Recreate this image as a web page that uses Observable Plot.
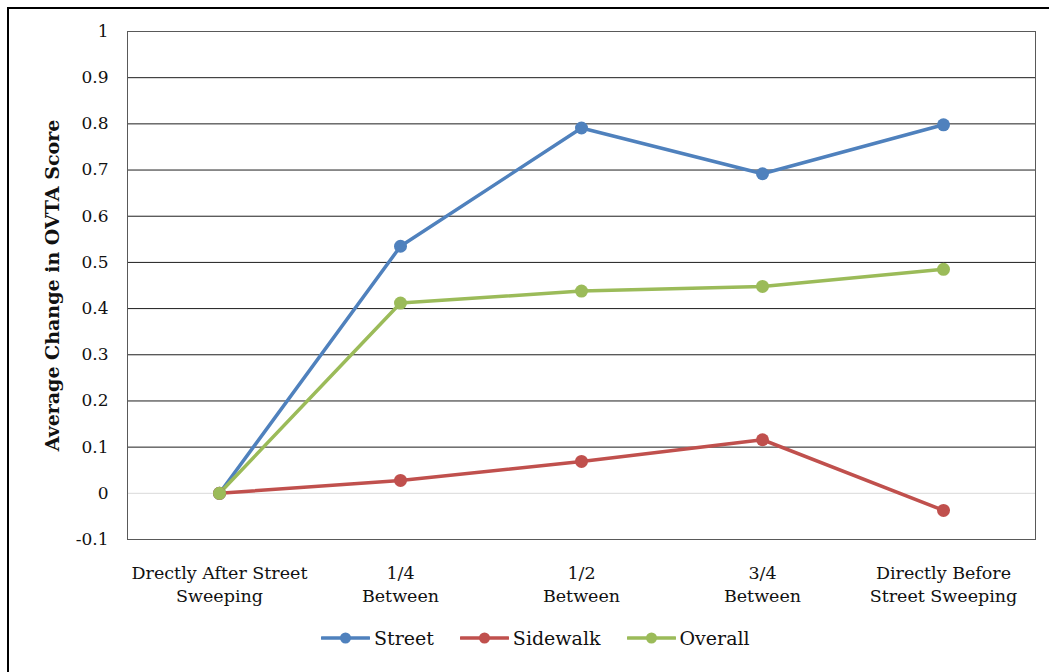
<!DOCTYPE html>
<html>
<head>
<meta charset="utf-8">
<script src="https://cdn.jsdelivr.net/npm/d3@7"></script>
<script src="https://cdn.jsdelivr.net/npm/@observablehq/plot@0.6"></script>
<style>
  html, body { margin: 0; padding: 0; background: #fff; overflow: hidden; }
  body { width: 1049px; height: 672px; position: relative; font-family: "DejaVu Serif", serif; }
  #box { position: absolute; left: 7px; top: 7px; width: 1100px; height: 720px; border: 2px solid #000; box-sizing: border-box; }
  #chart { position: absolute; left: 0; top: 0; }
  #legend { position: absolute; left: 321px; top: 627px; display: flex; align-items: center; font-size: 19px; color: #111; }
  .item { display: flex; align-items: center; margin-right: 26px; }
  .item svg { margin-right: 4px; }
</style>
</head>
<body>
<div id="box"></div>
<div id="chart"></div>
<div id="legend"></div>
<script>
// Time since sweeping (x categories)
const categories = [
  "Drectly After Street\nSweeping",
  "1/4\nBetween",
  "1/2\nBetween",
  "3/4\nBetween",
  "Directly Before\nStreet Sweeping"
];

// Average change in OVTA score per location type
const street   = [0, 0.535, 0.791, 0.692, 0.798];
const sidewalk = [0, 0.028, 0.069, 0.116, -0.037];
const overall  = [0, 0.412, 0.438, 0.448, 0.485];

const seriesNames = ["Street", "Sidewalk", "Overall"];
const seriesColors = ["#4F81BD", "#C0504D", "#9BBB59"];

const yTicks = [-0.1, 0, 0.1, 0.2, 0.3, 0.4, 0.5, 0.6, 0.7, 0.8, 0.9, 1];
const yLabel = "Average Change in OVTA Score";

const seriesValues = [street, sidewalk, overall];
const rows = seriesNames.flatMap((name, s) =>
  categories.map((c, i) => ({series: name, category: c, value: seriesValues[s][i]}))
);

const fmt = d => String(Math.round(d * 10) / 10);

const chart = Plot.plot({
  width: 1049,
  height: 610,
  marginLeft: 127,
  marginRight: 14,
  marginTop: 31,
  marginBottom: 71,
  style: {fontFamily: "'DejaVu Serif', serif", fontSize: "17px", color: "#111", background: "transparent"},
  x: {type: "point", domain: categories, padding: 0.5},
  y: {domain: [-0.1, 1]},
  color: {domain: seriesNames, range: seriesColors},
  marks: [
    Plot.gridY(yTicks.filter(t => t > 0), {stroke: "#1e1e1e", strokeOpacity: 1}),
    Plot.ruleY([0], {stroke: "#d9d9d9"}),
    Plot.frame({stroke: "#595959"}),
    Plot.axisY({ticks: yTicks, tickSize: 0, tickPadding: 19, tickFormat: fmt, label: null, fontSize: 17}),
    Plot.axisX({tickSize: 0, tickPadding: 22, label: null, fontSize: 17.5, lineHeight: 1.37}),
    Plot.text([yLabel], {frameAnchor: "left", textAnchor: "middle", dx: -75, rotate: -90, fontWeight: "bold", fontSize: 19, fill: "#111"}),
    Plot.line(rows, {x: "category", y: "value", z: "series", stroke: "series", strokeWidth: 3.5}),
    Plot.dot(rows, {x: "category", y: "value", fill: "series", r: 6.5})
  ]
});
document.getElementById("chart").appendChild(chart);

// Legend below the plot
const legend = d3.select("#legend");
seriesNames.forEach((name, i) => {
  const item = legend.append("div").attr("class", "item");
  const sw = item.append("svg").attr("width", 49).attr("height", 16);
  sw.append("line").attr("x1", 1).attr("x2", 48).attr("y1", 8).attr("y2", 8)
    .attr("stroke", seriesColors[i]).attr("stroke-width", 3.5).attr("stroke-linecap", "round");
  sw.append("circle").attr("cx", 24.5).attr("cy", 8).attr("r", 5.5).attr("fill", seriesColors[i]);
  item.append("span").text(name);
});
</script>
</body>
</html>
